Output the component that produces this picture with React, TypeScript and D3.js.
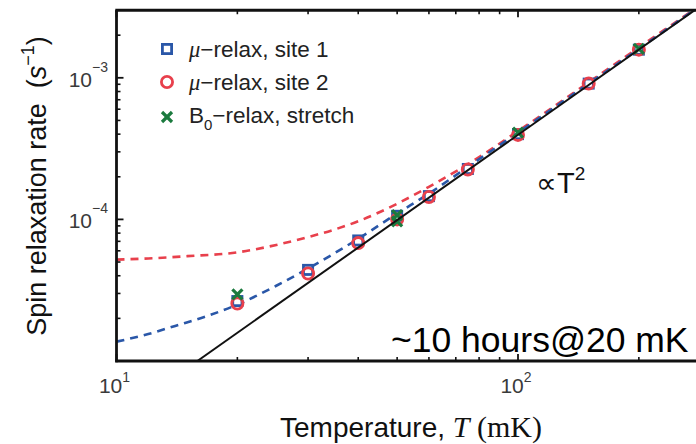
import React from 'react';
import * as d3 from 'd3';

const W = 696;
const H = 444;

// ---- data ----
const site1T = [20, 30, 40, 50, 60, 75, 100, 150, 200];
const site1 = [2.65e-5, 4.4e-5, 7.1e-5, 1.06e-4, 1.46e-4, 2.27e-4, 4.0e-4, 9.1e-4, 1.58e-3];
const site2T = [20, 30, 40, 50, 60, 75, 100, 150, 200];
const site2 = [2.55e-5, 4.15e-5, 6.8e-5, 1.0e-4, 1.44e-4, 2.25e-4, 3.95e-4, 9.1e-4, 1.58e-3];
const b0T = [20, 50, 50, 100, 200];
const b0 = [2.95e-5, 1.07e-4, 9.7e-5, 4.1e-4, 1.6e-3];

const blueFitT = [10, 12, 14, 17, 20, 25, 30, 40, 50, 60, 75, 100, 150, 200, 300];
const blueFit = [1.37e-5, 1.55e-5, 1.77e-5, 2.1e-5, 2.5e-5, 3.4e-5, 4.5e-5, 7.3e-5, 1.1e-4, 1.52e-4, 2.35e-4, 4.1e-4, 9.1e-4, 1.6e-3, 3.6e-3];
const redFitT = [10, 12, 15, 20, 25, 30, 35, 40, 50, 60, 75, 100, 150, 200, 300];
const redFit = [5.2e-5, 5.3e-5, 5.5e-5, 5.85e-5, 6.6e-5, 7.5e-5, 8.5e-5, 9.7e-5, 1.29e-4, 1.7e-4, 2.45e-4, 4.2e-4, 9.3e-4, 1.64e-3, 3.6e-3];
const lawT = [15.9, 300];
const law = [1e-5, 3.56e-3];

const xMajor = [10, 100];
const xMinor = [20, 30, 40, 50, 60, 70, 80, 90, 200, 300];
const yMajor = [1e-5, 1e-4, 1e-3];
const yMinor = [2e-5, 3e-5, 4e-5, 5e-5, 6e-5, 7e-5, 8e-5, 9e-5, 2e-4, 3e-4, 4e-4, 5e-4, 6e-4, 7e-4, 8e-4, 9e-4, 2e-3, 3e-3];
const xTickLabels = [{ v: 10, e: '1' }, { v: 100, e: '2' }];
const yTickLabels = [{ v: 1e-4, e: '−4' }, { v: 1e-3, e: '−3' }];

const BLUE = '#2a57a8';
const RED = '#e8404c';
const GREEN = '#1b7a3e';
const SANS = '"Liberation Sans", Arial, sans-serif';
const SERIF = '"Liberation Serif", "DejaVu Serif", serif';

export default function App() {
  const L = 116.5;
  const B = 361;
  const x = d3.scaleLog().domain([10, 300]).range([L, L + 401.5 * Math.log10(30)]);
  const y = d3.scaleLog().domain([1e-5, 3e-3]).range([B, B - 141.6 * Math.log10(300)]);
  const T = y(3e-3);
  const R = x(300);

  const line = d3
    .line<[number, number]>()
    .x((d) => x(d[0]))
    .y((d) => y(d[1]))
    .curve(d3.curveMonotoneX);
  const zip = (a: number[], b: number[]) => a.map((v, i) => [v, b[i]] as [number, number]);

  const sq = 4.6;
  const cr = 5.6;
  const xs = 5;

  return (
    <svg width={W} height={H} style={{ position: 'absolute', left: 0, top: 0, background: '#fff' }}>
      <defs>
        <clipPath id="plot">
          <rect x={L} y={T} width={R - L} height={B - T} />
        </clipPath>
      </defs>
      <rect x={0} y={0} width={W} height={H} fill="#fff" />

      <g clipPath="url(#plot)">
        <path d={line(zip(redFitT, redFit)) || ''} fill="none" stroke={RED} strokeWidth={2.6} strokeDasharray="8 6" />
        <path d={line(zip(blueFitT, blueFit)) || ''} fill="none" stroke={BLUE} strokeWidth={2.6} strokeDasharray="8 6" />
        {site1T.map((t, i) => (
          <rect key={'s' + i} x={x(t) - sq} y={y(site1[i]) - sq} width={sq * 2} height={sq * 2} fill="#fff" stroke={BLUE} strokeWidth={2.8} />
        ))}
        {site2T.map((t, i) => (
          <circle key={'c' + i} cx={x(t)} cy={y(site2[i])} r={cr} fill="none" stroke={RED} strokeWidth={2.8} />
        ))}
        {b0T.map((t, i) => (
          <g key={'x' + i} stroke={GREEN} strokeWidth={3.2}>
            <line x1={x(t) - xs} y1={y(b0[i]) - xs} x2={x(t) + xs} y2={y(b0[i]) + xs} />
            <line x1={x(t) - xs} y1={y(b0[i]) + xs} x2={x(t) + xs} y2={y(b0[i]) - xs} />
          </g>
        ))}
        <path d={line(zip(lawT, law)) || ''} fill="none" stroke="#111" strokeWidth={2} />
      </g>

      {/* axes frame */}
      <g stroke="#111" fill="none">
        <line x1={L} y1={T} x2={L} y2={B + 1.2} strokeWidth={2.8} />
        <line x1={L - 1.2} y1={B} x2={W + 20} y2={B} strokeWidth={2.8} />
        <line x1={L - 1.2} y1={T} x2={W + 20} y2={T} strokeWidth={2.8} />
        {xMinor.map((v) => (
          <g key={'xm' + v}>
            <line x1={x(v)} x2={x(v)} y1={B} y2={B - 4} strokeWidth={1.6} />
            <line x1={x(v)} x2={x(v)} y1={T} y2={T + 4} strokeWidth={1.6} />
          </g>
        ))}
        {xMajor.map((v) => (
          <g key={'xM' + v}>
            <line x1={x(v)} x2={x(v)} y1={B} y2={B - 7} strokeWidth={1.8} />
            <line x1={x(v)} x2={x(v)} y1={T} y2={T + 7} strokeWidth={1.8} />
          </g>
        ))}
        {yMinor.map((v) => (
          <line key={'ym' + v} x1={L} x2={L + 4} y1={y(v)} y2={y(v)} strokeWidth={1.6} />
        ))}
        {yMajor.map((v) => (
          <line key={'yM' + v} x1={L} x2={L + 7} y1={y(v)} y2={y(v)} strokeWidth={1.8} />
        ))}
      </g>

      {/* tick labels */}
      <g fontFamily={SANS} fill="#3a3a3a">
        {yTickLabels.map((d) => (
          <text key={'yl' + d.e} x={92} y={y(d.v) + 9} fontSize={21} textAnchor="end">
            10
          </text>
        ))}
        {yTickLabels.map((d) => (
          <text key={'ye' + d.e} x={92} y={y(d.v) - 6} fontSize={14}>
            {d.e}
          </text>
        ))}
        {xTickLabels.map((d) => (
          <text key={'xl' + d.e} x={x(d.v) - 2} y={393} fontSize={21} textAnchor="middle">
            10
            <tspan fontSize={14} dy={-11}>{d.e}</tspan>
          </text>
        ))}
      </g>

      {/* axis labels */}
      <text
        transform={`translate(46,186) rotate(-90)`}
        textAnchor="middle"
        fontFamily={SANS}
        fontSize={27}
        fill="#111"
      >
        Spin relaxation rate{'\u00a0\u00a0'}(
        <tspan fontStyle="italic">s</tspan>
        <tspan fontSize={18} dy={-12}>−1</tspan>
        <tspan dy={12}>)</tspan>
      </text>
      <text x={411} y={437} textAnchor="middle" fontFamily={SANS} fontSize={28} fill="#111">
        Temperature,{' '}
        <tspan fontFamily={SERIF} fontStyle="italic" fontSize={30}>T</tspan>
        <tspan fontFamily={SERIF} fontSize={30}>{'\u00a0'}(mK)</tspan>
      </text>

      {/* legend */}
      <g>
        <rect x={167 - sq} y={49 - sq} width={sq * 2} height={sq * 2} fill="#fff" stroke={BLUE} strokeWidth={2.8} />
        <circle cx={167} cy={82} r={cr} fill="none" stroke={RED} strokeWidth={2.8} />
        <g stroke={GREEN} strokeWidth={3.2}>
          <line x1={167 - xs} y1={117 - xs} x2={167 + xs} y2={117 + xs} />
          <line x1={167 - xs} y1={117 + xs} x2={167 + xs} y2={117 - xs} />
        </g>
        <g fontFamily={SANS} fontSize={22.5} fill="#222">
          <text x={189} y={57}>
            <tspan fontFamily={SERIF} fontStyle="italic">μ</tspan>−relax, site 1
          </text>
          <text x={189} y={90}>
            <tspan fontFamily={SERIF} fontStyle="italic">μ</tspan>−relax, site 2
          </text>
          <text x={189} y={123}>
            B<tspan fontSize={15} dy={7}>0</tspan>
            <tspan dy={-7}>−relax, stretch</tspan>
          </text>
        </g>
      </g>

      {/* annotations */}
      <text x={536} y={193} fontFamily={SANS} fontSize={29} fill="#111">
        ∝T<tspan fontSize={19} dy={-13}>2</tspan>
      </text>
      <text x={391} y={352} fontFamily={SANS} fontSize={35.5} fill="#000">
        ~10 hours@20 mK
      </text>
    </svg>
  );
}
